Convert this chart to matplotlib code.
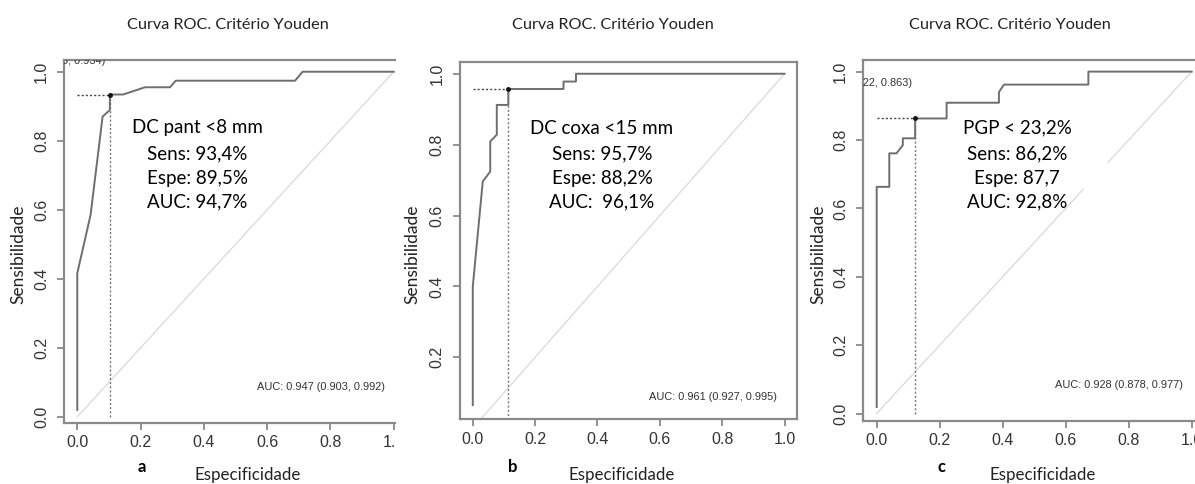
import numpy as np
import matplotlib
matplotlib.use('Agg')
import matplotlib.pyplot as plt
from matplotlib.transforms import Bbox, TransformedBbox
from matplotlib.patches import Rectangle

plt.rcParams['font.family'] = ['Lato', 'DejaVu Sans']

###########################################################
# data

spec_a = [0, 0, 0.042, 0.080, 0.103, 0.103, 0.145, 0.214, 0.293, 0.311, 0.688, 0.712, 1.0]
sens_a = [0.02, 0.416, 0.585, 0.870, 0.889, 0.934, 0.934, 0.955, 0.955, 0.974, 0.974, 1.0, 1.0]
cut_a = (0.103, 0.934)

spec_b = [0, 0, 0.032, 0.056, 0.056, 0.077, 0.077, 0.114, 0.114, 0.291, 0.291, 0.331, 0.331, 1.0]
sens_b = [0.065, 0.399, 0.696, 0.724, 0.809, 0.828, 0.912, 0.912, 0.957, 0.957, 0.978, 0.978, 1.0, 1.0]
cut_b = (0.114, 0.957)

spec_c = [0, 0, 0.040, 0.040, 0.063, 0.083, 0.083, 0.122, 0.122, 0.222, 0.222, 0.388, 0.388, 0.404, 0.672, 0.672, 1.0]
sens_c = [0.019, 0.663, 0.663, 0.761, 0.761, 0.785, 0.805, 0.805, 0.863, 0.863, 0.909, 0.909, 0.94, 0.962, 0.962, 1.0, 1.0]
cut_c = (0.122, 0.863)

title = 'Curva ROC. Critério Youden'
letters = ['a', 'b', 'c']
notes = [['DC pant <8 mm', 'Sens: 93,4%', 'Espe: 89,5%', 'AUC: 94,7%'],
         ['DC coxa <15 mm', 'Sens: 95,7%', 'Espe: 88,2%', 'AUC:  96,1%'],
         ['PGP < 23,2%', 'Sens: 86,2%', 'Espe: 87,7', 'AUC: 92,8%']]
auc_txt = ['AUC: 0.947 (0.903, 0.992)', 'AUC: 0.961 (0.927, 0.995)', 'AUC: 0.928 (0.878, 0.977)']
thr_txt = ['5, 0.934)', None, '(0.122, 0.863)']
ticks = [0.0, 0.2, 0.4, 0.6, 0.8, 1.0]

###########################################################
# layout (pixels of the 1195x484 picture)

W, H = 1195, 484
def fx(x):
    return x / W
def fy(y):
    return 1 - y / H

# left, right, top, bottom of each plot box; crop limit of each panel
boxes = [(64.3, 395, 60, 422.7), (460, 796.7, 61.7, 419.3), (863.3, 1195, 60, 420.7)]
xlims = [(-0.041, 1.004), (-0.041, 1.039), (-0.0425, 1.0105)]
ylims = [(-0.017, 1.034), (0.025, 1.034), (-0.021, 1.034)]
crops = [(0, 395), (400, 800), (800, 1195)]
note_x = [197.5, 602, 1017]
note_y = [128, 153.5, 179, 202]
auc_pos = [(321, 387), (713, 396.7), (1119, 385)]
thr_pos = [(105, 60.5), None, (912, 83.3)]
title_x = [227.5, 613, 1010]
letter_x = [141.7, 512.7, 941.7]
xlab_x = [247.5, 622, 1042.5]
ylab_x = [18, 412, 818]

curves = [(spec_a, sens_a, cut_a), (spec_b, sens_b, cut_b), (spec_c, sens_c, cut_c)]

spine_col = '#8a8a8a'
fig = plt.figure(figsize=(W / 100, H / 100), dpi=100)

for i, (xs, ys, cut) in enumerate(curves):
    l, r, t, b = boxes[i]
    ax = fig.add_axes([fx(l), fy(b), (r - l) / W, (b - t) / H])
    ax.set_xlim(*xlims[i])
    ax.set_ylim(*ylims[i])

    # chance diagonal, curve, Youden point
    ax.plot([0, 1], [0, 1], color='#dcdcdc', lw=1.0, zorder=1)
    ax.plot(xs, ys, color='#6e6e6e', lw=1.4, zorder=3)
    ax.plot([0, cut[0]], [cut[1], cut[1]], color='#444444', lw=1.0, ls=(0, (1.5, 1.5)), zorder=2)
    ax.plot([cut[0], cut[0]], [0, cut[1]], color='#777777', lw=1.0, ls=(0, (1.5, 1.5)), zorder=2)
    ax.plot([cut[0]], [cut[1]], 'o', color='#111111', ms=2.5, zorder=4)

    for s in ax.spines.values():
        s.set_color(spine_col)
        s.set_linewidth(1.6)
    if i != 1:
        ax.spines['right'].set_visible(False)

    ax.set_xticks(ticks)
    ax.set_yticks([v for v in ticks if v >= ylims[i][0]])
    ax.set_xticklabels(['%.1f' % v for v in ticks])
    ax.set_yticklabels(['%.1f' % v for v in ticks if v >= ylims[i][0]])
    ax.tick_params(colors=spine_col, width=1.3, length=5, labelcolor='#333333')
    ax.tick_params(axis='x', pad=4)
    ax.tick_params(axis='y', pad=6, labelrotation=90)
    clip = TransformedBbox(Bbox.from_extents(fx(crops[i][0]), 0, fx(crops[i][1]), 1), fig.transFigure)
    for lab in ax.get_xticklabels() + ax.get_yticklabels():
        lab.set_family('Liberation Sans')
        lab.set_fontsize(11.5)
        lab.set_clip_box(clip)
        lab.set_clip_on(True)
    for lab in ax.get_yticklabels():
        lab.set_va('center')

    # pROC threshold label, cut by the plot box
    if thr_pos[i] is not None:
        px, py = thr_pos[i]
        tx = ax.transData.inverted().transform(fig.transFigure.transform((fx(px), fy(py))))
        ax.text(tx[0], tx[1], thr_txt[i], ha='right', va='center', family='Liberation Sans',
                fontsize=7.9, color='#333333', clip_on=True)

    fig.text(fx(auc_pos[i][0]), fy(auc_pos[i][1]), auc_txt[i], ha='center', va='center',
             family='Liberation Sans', fontsize=7.9, color='#333333')

    for k, line in enumerate(notes[i]):
        fig.text(fx(note_x[i]), fy(note_y[k]), line, ha='center', va='center', fontsize=13.5, color='black', zorder=5)

    fig.text(fx(title_x[i]), fy(25), title, ha='center', va='center', fontsize=11.7, color='#222222')
    fig.text(fx(letter_x[i]), fy(467), letters[i], ha='center', va='center', fontsize=12,
             fontweight='bold', color='black')
    fig.text(fx(xlab_x[i]), fy(475), 'Especificidade', ha='center', va='center', fontsize=12.2, color='#222222')
    fig.text(fx(ylab_x[i]), fy(254), 'Sensibilidade', ha='center', va='center', rotation=90,
             fontsize=12.5, color='#222222')

# white text box of the third panel hiding a piece of the diagonal
fig.patches.append(Rectangle((fx(960), fy(189)), (1112 - 960) / W, 26 / H, transform=fig.transFigure,
                             facecolor='white', edgecolor='none', zorder=4))

plt.savefig('out.png', dpi=100)
